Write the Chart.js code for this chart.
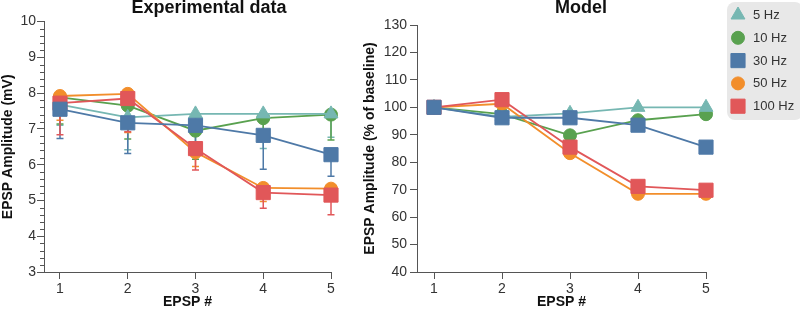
<!DOCTYPE html>
<html>
<head>
<meta charset="utf-8">
<script src="https://cdn.jsdelivr.net/npm/chart.js@4/dist/chart.umd.min.js"></script>
<style>
  html, body { margin: 0; padding: 0; background: #fff; }
  body { width: 800px; height: 313px; position: relative; overflow: hidden; }
  canvas { position: absolute; top: 0; }
  #expChart { left: 0; }
  #modelChart { left: 308px; }
</style>
</head>
<body>
<canvas id="expChart" width="418" height="313"></canvas>
<canvas id="modelChart" width="492" height="313"></canvas>
<script>
const epsp = [1, 2, 3, 4, 5]
const freqLabels = ["5 Hz", "10 Hz", "30 Hz", "50 Hz", "100 Hz"]

// experimental data (mV) and lower end of the error bars
const exp5 = [7.68, 7.32, 7.42, 7.42, 7.42]
const exp10 = [7.88, 7.65, 6.95, 7.3, 7.4]
const exp30 = [7.55, 7.17, 7.1, 6.82, 6.28]
const exp50 = [7.92, 7.98, 6.35, 5.35, 5.33]
const exp100 = [7.72, 7.85, 6.45, 5.22, 5.15]
const low5 = [7.1, 6.42, 6.85, 6.45, 6.77]
const low10 = [7.14, 6.72, 6.15, 6.7, 6.69]
const low30 = [6.73, 6.31, 6.55, 5.87, 5.68]
const low50 = [7.24, 6.9, 5.95, 4.97, 4.99]
const low100 = [6.84, 6.92, 5.85, 4.78, 4.6]

// model (% of baseline)
const mod5 = [100, 96.5, 97.8, 100, 100]
const mod10 = [100, 97.5, 89.8, 95.3, 97.5]
const mod30 = [100, 96.2, 96.2, 93.5, 85.5]
const mod50 = [100, 101.3, 83.3, 68.5, 68.5]
const mod100 = [100, 102.8, 85.5, 71.2, 69.8]

const expTicks = [3, 4, 5, 6, 7, 8, 9, 10]
const modTicks = [40, 50, 60, 70, 80, 90, 100, 110, 120, 130]

const colors = ["#76b7b2", "#59a14f", "#4e79a7", "#f28e2b", "#e15759"]
const styles = ["triangle", "circle", "rect", "circle", "rect"]
const radii = [8, 6.5, 10, 6.5, 10]
const drawOrder = [3, 4, 0, 2, 1] // lower = drawn on top

Chart.defaults.font.family = "'Liberation Sans', Arial, sans-serif"
Chart.defaults.color = "#333"

const axisColor = "#555"

function makeDatasets(series, lows) {
  return series.map((vals, i) => ({
    label: freqLabels[i],
    data: vals.map((v, k) => ({ x: epsp[k], y: v })),
    lows: lows ? lows[i] : null,
    borderColor: colors[i],
    backgroundColor: colors[i],
    borderWidth: 1.8,
    pointStyle: styles[i],
    pointRadius: radii[i],
    pointBorderWidth: 1,
    pointBorderColor: colors[i],
    pointBackgroundColor: colors[i],
    order: drawOrder[i],
    clip: false,
    tension: 0,
  }))
}

// downward error bars, drawn under the lines
const errorBars = {
  id: "errorBars",
  beforeDatasetsDraw(chart) {
    const { ctx, scales } = chart
    ctx.save()
    ctx.lineWidth = 1.5
    chart.data.datasets.forEach((ds) => {
      if (!ds.lows) return
      ctx.strokeStyle = ds.borderColor
      ds.data.forEach((p, k) => {
        const x = scales.x.getPixelForValue(p.x)
        const y0 = scales.y.getPixelForValue(p.y)
        const y1 = scales.y.getPixelForValue(ds.lows[k])
        ctx.beginPath()
        ctx.moveTo(x, y0)
        ctx.lineTo(x, y1)
        ctx.moveTo(x - 3.5, y1)
        ctx.lineTo(x + 3.5, y1)
        ctx.stroke()
      })
    })
    ctx.restore()
  },
}

// short minor ticks every 0.2 on the left y axis
const minorTicks = {
  id: "minorTicks",
  afterDraw(chart) {
    if (!chart.options.plugins.minorTicks) return
    const { ctx, scales } = chart
    const y = scales.y
    ctx.save()
    ctx.strokeStyle = axisColor
    ctx.lineWidth = 1
    for (let v = y.min; v <= y.max + 1e-9; v += 0.2) {
      if (Math.abs(v - Math.round(v)) < 1e-6) continue
      const py = Math.round(y.getPixelForValue(v)) + 0.5
      ctx.beginPath()
      ctx.moveTo(y.right - 4, py)
      ctx.lineTo(y.right, py)
      ctx.stroke()
    }
    ctx.restore()
  },
}

// gray rounded legend box at the right edge
const boxLegend = {
  id: "boxLegend",
  afterDraw(chart) {
    const opts = chart.options.plugins.boxLegend
    if (!opts) return
    const { ctx } = chart
    ctx.save()
    ctx.fillStyle = "#e8e8e8"
    ctx.beginPath()
    ctx.roundRect(opts.x, opts.y, opts.w, opts.h, 8)
    ctx.fill()
    chart.data.datasets.forEach((ds, i) => {
      const cy = opts.y + 13 + i * 22.8
      ctx.fillStyle = ds.backgroundColor
      ctx.strokeStyle = ds.borderColor
      Chart.helpers.drawPoint(
        ctx,
        { pointStyle: ds.pointStyle, radius: ds.pointRadius, rotation: 0, borderWidth: 1 },
        opts.x + 11,
        cy
      )
      ctx.fillStyle = "#333"
      ctx.font = "13px 'Liberation Sans', Arial, sans-serif"
      ctx.textBaseline = "middle"
      ctx.textAlign = "left"
      ctx.fillText(ds.label, opts.x + 26, cy + 0.5)
    })
    ctx.restore()
  },
}

function makeOptions(cfg) {
  return {
    responsive: false,
    animation: false,
    layout: { padding: { left: cfg.padLeft, right: 0, top: 0, bottom: 0 } },
    plugins: {
      legend: { display: false },
      tooltip: { enabled: false },
      title: {
        display: true,
        text: cfg.title,
        color: "#111",
        font: { size: 18, weight: "bold" },
        padding: { top: -3, bottom: cfg.titleGap },
      },
      minorTicks: cfg.minor,
      boxLegend: cfg.legend,
    },
    scales: {
      x: {
        type: "linear",
        min: cfg.xMin,
        max: 5,
        afterBuildTicks: (s) => (s.ticks = epsp.map((v) => ({ value: v }))),
        afterFit: (s) => (s.height = 41),
        border: { display: true, color: axisColor, width: 1 },
        grid: { drawOnChartArea: false, drawTicks: true, tickLength: 7, tickColor: axisColor },
        ticks: { font: { size: 14 }, color: "#333", padding: 2, maxRotation: 0 },
        title: {
          display: true,
          text: "EPSP #",
          color: "#111",
          font: { size: 14, weight: "bold" },
          padding: { top: 0, bottom: 2.5 },
        },
      },
      y: {
        type: "linear",
        min: cfg.yTicks[0],
        max: cfg.yTicks[cfg.yTicks.length - 1],
        afterBuildTicks: (s) => (s.ticks = cfg.yTicks.map((v) => ({ value: v }))),
        afterFit: (s) => (s.width = cfg.yWidth),
        border: { display: true, color: axisColor, width: 1 },
        grid: { drawOnChartArea: false, drawTicks: true, tickLength: 7, tickColor: axisColor },
        ticks: { font: { size: 14 }, color: "#333", padding: cfg.tickPad },
        title: {
          display: true,
          text: cfg.yTitle,
          color: "#111",
          font: { size: 14, weight: "bold" },
          padding: { top: 0, bottom: 0 },
        },
      },
      // empty right-hand strip, keeps the title centred on the whole canvas
      spacer: {
        type: "linear",
        position: "right",
        display: true,
        afterFit: (s) => (s.width = cfg.rightGap),
        border: { display: false },
        grid: { display: false, drawTicks: false },
        ticks: { display: false },
      },
    },
  }
}

new Chart(document.getElementById("expChart"), {
  type: "line",
  data: {
    datasets: makeDatasets(
      [exp5, exp10, exp30, exp50, exp100],
      [low5, low10, low30, low50, low100]
    ),
  },
  options: makeOptions({
    title: "Experimental data",
    titleGap: 3,
    padLeft: 0,
    rightGap: 87,
    xMin: 0.764,
    yTicks: expTicks,
    yWidth: 44,
    tickPad: 1,
    yTitle: "EPSP Amplitude (mV)",
    minor: true,
    legend: null,
  }),
  plugins: [errorBars, minorTicks],
})

new Chart(document.getElementById("modelChart"), {
  type: "line",
  data: {
    datasets: makeDatasets([mod5, mod10, mod30, mod50, mod100], null),
  },
  options: makeOptions({
    title: "Model",
    titleGap: 6.4,
    padLeft: 54,
    rightGap: 94,
    xMin: 0.75,
    yTicks: modTicks,
    yWidth: 55,
    tickPad: 3,
    yTitle: "EPSP Amplitude (% of baseline)",
    minor: false,
    legend: { x: 419, y: 2, w: 76, h: 118 },
  }),
  plugins: [boxLegend],
})
</script>
</body>
</html>
